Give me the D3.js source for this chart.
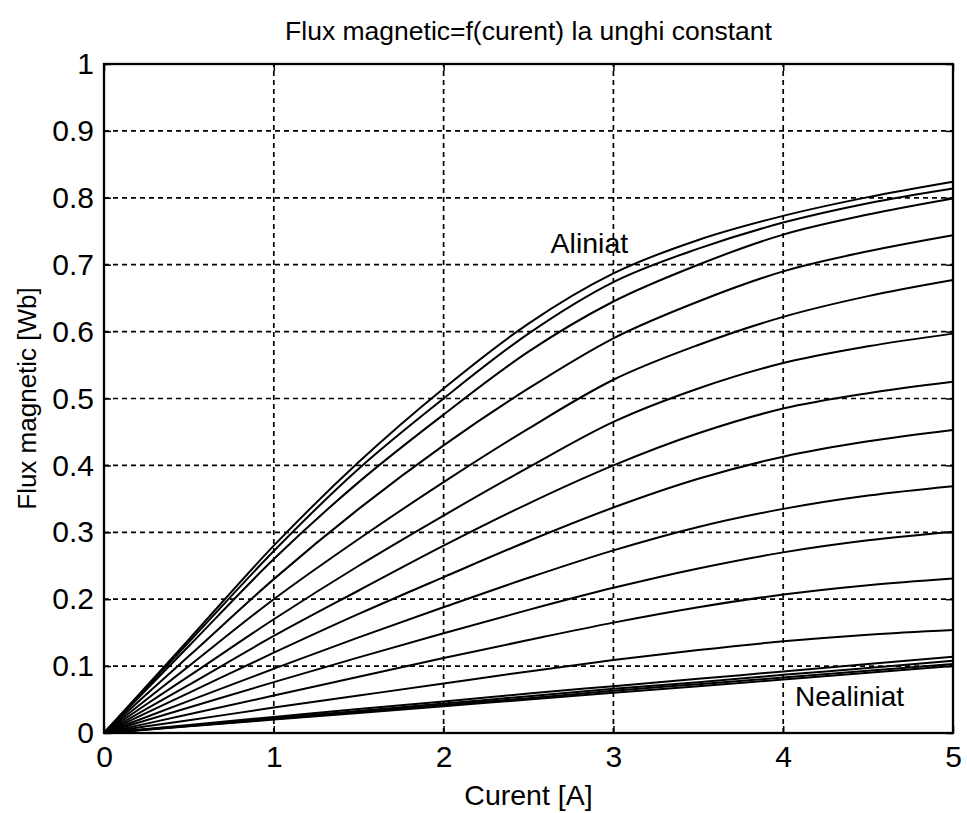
<!DOCTYPE html>
<html>
<head>
<meta charset="utf-8">
<script src="https://cdn.jsdelivr.net/npm/d3@7/dist/d3.min.js"></script>
<style>
  html, body { margin: 0; padding: 0; background: #fff; }
  svg { display: block; }
  text { font-family: "Liberation Sans", Arial, sans-serif; fill: #000; }
</style>
</head>
<body>
<svg id="chart" width="967" height="813"></svg>
<script>
// Current samples [A]
const current = [0, 0.25, 0.5, 1, 1.5, 2, 2.5, 3, 3.5, 4, 4.5, 5];

// Flux linkage [Wb] at constant rotor angle, from aligned to unaligned position
const flux01 = [0, 0.070, 0.140, 0.280, 0.405, 0.515, 0.612, 0.687, 0.737, 0.773, 0.801, 0.824];
const flux02 = [0, 0.068, 0.136, 0.272, 0.395, 0.500, 0.597, 0.674, 0.724, 0.763, 0.792, 0.814];
const flux03 = [0, 0.065, 0.130, 0.260, 0.375, 0.476, 0.570, 0.645, 0.700, 0.745, 0.775, 0.799];
const flux04 = [0, 0.058, 0.115, 0.230, 0.335, 0.430, 0.515, 0.590, 0.645, 0.690, 0.720, 0.744];
const flux05 = [0, 0.050, 0.100, 0.200, 0.290, 0.375, 0.455, 0.528, 0.580, 0.622, 0.653, 0.677];
const flux06 = [0, 0.043, 0.085, 0.170, 0.250, 0.325, 0.397, 0.465, 0.515, 0.553, 0.578, 0.597];
const flux07 = [0, 0.036, 0.072, 0.145, 0.213, 0.280, 0.343, 0.400, 0.448, 0.485, 0.508, 0.525];
const flux08 = [0, 0.030, 0.060, 0.120, 0.178, 0.233, 0.287, 0.337, 0.380, 0.413, 0.436, 0.453];
const flux09 = [0, 0.024, 0.048, 0.096, 0.143, 0.188, 0.232, 0.273, 0.308, 0.335, 0.355, 0.369];
const flux10 = [0, 0.019, 0.038, 0.076, 0.113, 0.149, 0.184, 0.217, 0.246, 0.270, 0.288, 0.301];
const flux11 = [0, 0.014, 0.028, 0.056, 0.084, 0.112, 0.139, 0.165, 0.188, 0.207, 0.221, 0.231];
const flux12 = [0, 0.010, 0.019, 0.038, 0.056, 0.074, 0.092, 0.109, 0.124, 0.137, 0.147, 0.154];
const flux13 = [0, 0.006, 0.012, 0.024, 0.036, 0.047, 0.059, 0.070, 0.081, 0.092, 0.103, 0.114];
const flux14 = [0, 0.0055, 0.011, 0.022, 0.033, 0.044, 0.055, 0.066, 0.076, 0.087, 0.097, 0.108];
const flux15 = [0, 0.0053, 0.0105, 0.021, 0.031, 0.042, 0.052, 0.063, 0.073, 0.083, 0.093, 0.103];
const flux16 = [0, 0.005, 0.010, 0.020, 0.030, 0.040, 0.050, 0.060, 0.070, 0.080, 0.090, 0.100];

const xTicks = [0, 1, 2, 3, 4, 5];
const yTicks = [0, 0.1, 0.2, 0.3, 0.4, 0.5, 0.6, 0.7, 0.8, 0.9, 1];

const titleText = "Flux magnetic=f(curent) la unghi constant";
const xLabelText = "Curent [A]";
const yLabelText = "Flux magnetic [Wb]";

const curves = [flux01, flux02, flux03, flux04, flux05, flux06, flux07, flux08,
                flux09, flux10, flux11, flux12, flux13, flux14, flux15, flux16];

const svg = d3.select("#chart");
const W = 967, H = 813;
const m = { left: 104, right: W - 953, top: 64, bottom: H - 733 };
const pw = W - m.left - m.right, ph = H - m.top - m.bottom;

svg.append("rect").attr("width", W).attr("height", H).attr("fill", "#fff");

const x = d3.scaleLinear().domain([0, 5]).range([m.left, m.left + pw]);
const y = d3.scaleLinear().domain([0, 1]).range([m.top + ph, m.top]);

// dashed grid
const grid = svg.append("g").attr("stroke", "#000").attr("stroke-width", 1.7)
  .attr("stroke-dasharray", "5,4");
grid.selectAll("line.gx").data(xTicks.slice(1, -1)).join("line")
  .attr("x1", d => x(d)).attr("x2", d => x(d))
  .attr("y1", y(0)).attr("y2", y(1));
grid.selectAll("line.gy").data(yTicks.slice(1, -1)).join("line")
  .attr("x1", x(0)).attr("x2", x(5))
  .attr("y1", d => y(d)).attr("y2", d => y(d));

// curves
const line = d3.line()
  .x((d, i) => x(current[i]))
  .y(d => y(d))
  .curve(d3.curveMonotoneX);
svg.append("g").selectAll("path").data(curves).join("path")
  .attr("d", line)
  .attr("fill", "none")
  .attr("stroke", "#000")
  .attr("stroke-width", 2);

// axes with inward ticks on all sides
const tickLen = 7;
const axB = svg.append("g").attr("transform", `translate(0,${y(0)})`)
  .call(d3.axisBottom(x).tickValues(xTicks).tickSizeInner(-tickLen).tickSizeOuter(0).tickPadding(13).tickFormat(d3.format("d")));
const axT = svg.append("g").attr("transform", `translate(0,${y(1)})`)
  .call(d3.axisTop(x).tickValues(xTicks).tickSizeInner(-tickLen).tickSizeOuter(0).tickFormat(""));
const axL = svg.append("g").attr("transform", `translate(${x(0)},0)`)
  .call(d3.axisLeft(y).tickValues(yTicks).tickSizeInner(-tickLen).tickSizeOuter(0).tickPadding(10)
    .tickFormat(d => d === 0 ? "0" : d === 1 ? "1" : d3.format(".1f")(d)));
const axR = svg.append("g").attr("transform", `translate(${x(5)},0)`)
  .call(d3.axisRight(y).tickValues(yTicks).tickSizeInner(-tickLen).tickSizeOuter(0).tickFormat(""));

[axB, axT, axL, axR].forEach(a => {
  a.select(".domain").remove();
  a.selectAll(".tick line").attr("stroke", "#000").attr("stroke-width", 1.5);
  a.selectAll("text").attr("font-size", 30).attr("font-family", "Liberation Sans, Arial, sans-serif").attr("fill", "#000");
});

// frame
svg.append("rect").attr("x", x(0)).attr("y", y(1))
  .attr("width", pw).attr("height", ph)
  .attr("fill", "none").attr("stroke", "#000").attr("stroke-width", 2.3);

// title and axis labels
svg.append("text").attr("x", m.left + pw / 2).attr("y", 40)
  .attr("text-anchor", "middle").attr("font-size", 26.5).text(titleText);
svg.append("text").attr("x", m.left + pw / 2).attr("y", 805)
  .attr("text-anchor", "middle").attr("font-size", 28.5).text(xLabelText);
svg.append("text").attr("transform", `translate(36,${m.top + ph / 2}) rotate(-90)`)
  .attr("text-anchor", "middle").attr("font-size", 26).text(yLabelText);

// position annotations
svg.append("text").attr("x", x(2.63)).attr("y", y(0.7) - 12)
  .attr("font-size", 28.5).text("Aliniat");
svg.append("text").attr("x", x(4.07)).attr("y", y(0.04))
  .attr("font-size", 28).text("Nealiniat");
</script>
</body>
</html>
